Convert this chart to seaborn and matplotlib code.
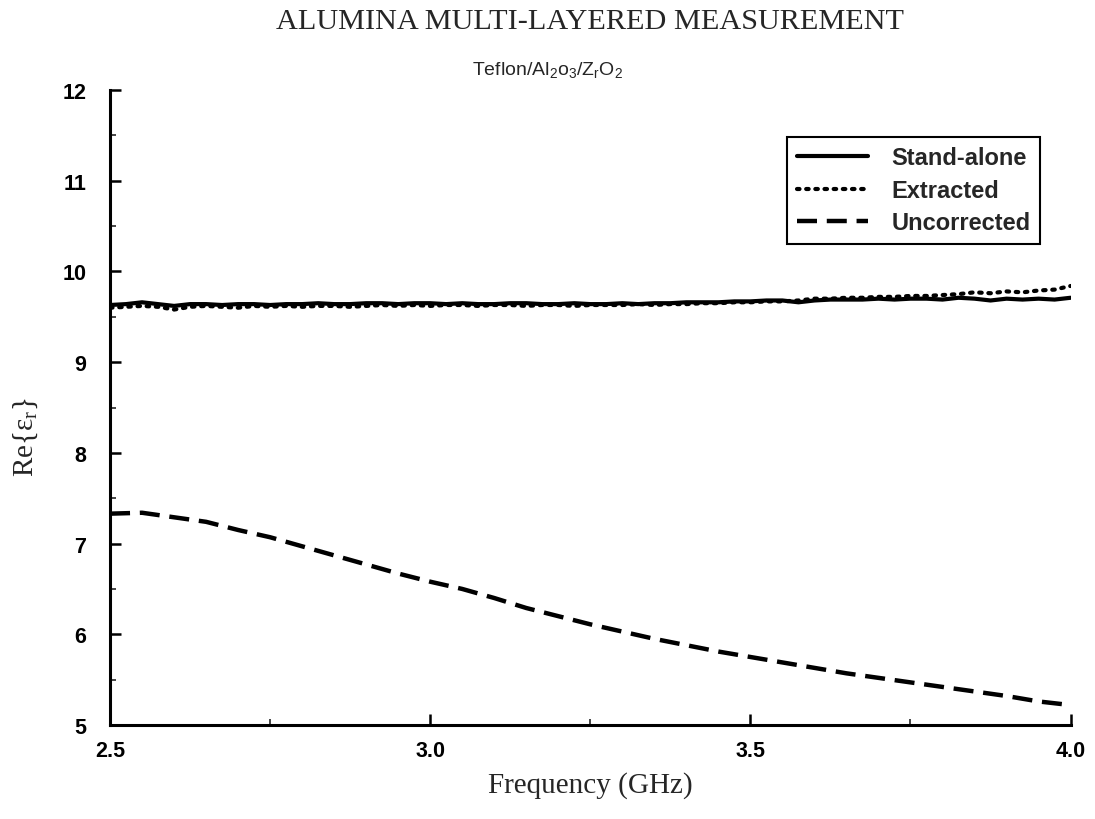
import numpy as np
import pandas as pd
import matplotlib
matplotlib.use("Agg")
import matplotlib.pyplot as plt
import seaborn as sns

# ---- data ----
freq_fine = [2.500, 2.525, 2.550, 2.575, 2.600, 2.625, 2.650, 2.675, 2.700, 2.725,
             2.750, 2.775, 2.800, 2.825, 2.850, 2.875, 2.900, 2.925, 2.950, 2.975,
             3.000, 3.025, 3.050, 3.075, 3.100, 3.125, 3.150, 3.175, 3.200, 3.225,
             3.250, 3.275, 3.300, 3.325, 3.350, 3.375, 3.400, 3.425, 3.450, 3.475,
             3.500, 3.525, 3.550, 3.575, 3.600, 3.625, 3.650, 3.675, 3.700, 3.725,
             3.750, 3.775, 3.800, 3.825, 3.850, 3.875, 3.900, 3.925, 3.950, 3.975,
             4.000]
stand_alone = [9.63, 9.64, 9.66, 9.64, 9.62, 9.64, 9.64, 9.63, 9.64, 9.64,
               9.63, 9.64, 9.64, 9.65, 9.64, 9.64, 9.65, 9.65, 9.64, 9.65,
               9.65, 9.64, 9.65, 9.64, 9.64, 9.65, 9.65, 9.64, 9.64, 9.65,
               9.64, 9.64, 9.65, 9.64, 9.65, 9.65, 9.66, 9.66, 9.66, 9.67,
               9.67, 9.68, 9.68, 9.66, 9.68, 9.69, 9.69, 9.69, 9.70, 9.69,
               9.70, 9.70, 9.69, 9.71, 9.70, 9.68, 9.70, 9.69, 9.70, 9.69,
               9.71]
extracted = [9.60, 9.61, 9.62, 9.61, 9.58, 9.61, 9.62, 9.61, 9.60, 9.62,
             9.61, 9.62, 9.61, 9.62, 9.62, 9.61, 9.62, 9.63, 9.62, 9.63,
             9.62, 9.63, 9.63, 9.62, 9.63, 9.63, 9.62, 9.63, 9.63, 9.62,
             9.63, 9.63, 9.63, 9.64, 9.63, 9.64, 9.64, 9.65, 9.65, 9.66,
             9.66, 9.67, 9.67, 9.68, 9.70, 9.70, 9.71, 9.71, 9.72, 9.72,
             9.73, 9.73, 9.74, 9.75, 9.77, 9.76, 9.78, 9.77, 9.79, 9.80,
             9.84]
freq_coarse = [2.50, 2.55, 2.60, 2.65, 2.70, 2.75, 2.80, 2.85, 2.90, 2.95,
               3.00, 3.05, 3.10, 3.15, 3.20, 3.25, 3.30, 3.35, 3.40, 3.45,
               3.50, 3.55, 3.60, 3.65, 3.70, 3.75, 3.80, 3.85, 3.90, 3.95,
               4.00]
uncorrected = [7.33, 7.34, 7.29, 7.24, 7.15, 7.07, 6.97, 6.87, 6.77, 6.67,
               6.58, 6.50, 6.40, 6.29, 6.20, 6.11, 6.03, 5.95, 5.88, 5.81,
               5.75, 5.69, 5.63, 5.57, 5.52, 5.47, 5.42, 5.37, 5.32, 5.26,
               5.22]
series_names = ["Stand-alone", "Extracted", "Uncorrected"]
x_ticks = [2.5, 3.0, 3.5, 4.0]
x_tick_labels = ["2.5", "3.0", "3.5", "4.0"]
y_ticks = [5, 6, 7, 8, 9, 10, 11, 12]

# ---- style ----
sns.set_theme(style="ticks")
plt.rcParams["font.family"] = ["Liberation Sans", "DejaVu Sans"]
plt.rcParams["mathtext.fontset"] = "custom"
plt.rcParams["mathtext.rm"] = "Liberation Sans"
plt.rcParams["mathtext.default"] = "regular"

fig = plt.figure(figsize=(10.95, 8.2), dpi=100)
ax = fig.add_axes([0.1005, 0.1146, 0.8772, 0.7744])

df_sa = pd.DataFrame({"f": freq_fine, "v": stand_alone})
df_ex = pd.DataFrame({"f": freq_fine, "v": extracted})
df_un = pd.DataFrame({"f": freq_coarse, "v": uncorrected})

sns.lineplot(data=df_sa, x="f", y="v", ax=ax, color="black", lw=3.0,
             label=series_names[0])
sns.lineplot(data=df_ex, x="f", y="v", ax=ax, color="black", lw=3.0,
             label=series_names[1])
sns.lineplot(data=df_un, x="f", y="v", ax=ax, color="black", lw=3.2,
             label=series_names[2])
lines = ax.get_lines()
lines[1].set_linestyle((0, (0.6, 1.6)))
lines[1].set_dash_capstyle("round")
lines[2].set_linestyle((0, (4.5, 2.2)))

ax.set_xlim(2.5, 4.0)
ax.set_ylim(5, 12)
ax.set_xticks(x_ticks)
ax.set_xticklabels(x_tick_labels)
ax.set_yticks(y_ticks)
ax.set_xticks([2.75, 3.25, 3.75], minor=True)
ax.set_yticks(np.arange(5.5, 12, 1.0), minor=True)
ax.tick_params(axis="both", which="major", direction="in", length=8, width=1.8,
               labelsize=15.5, colors="black")
ax.tick_params(axis="both", which="minor", direction="in", length=4, width=1.2)
ax.tick_params(axis="x", pad=11)
ax.tick_params(axis="y", pad=17)
for lab in ax.get_xticklabels() + ax.get_yticklabels():
    lab.set_fontweight("bold")

sns.despine(ax=ax)
for s in ["left", "bottom"]:
    ax.spines[s].set_linewidth(2.2)
    ax.spines[s].set_color("black")

ax.set_xlabel("Frequency (GHz)", family=["Liberation Serif"], fontsize=21)
ax.xaxis.set_label_coords(0.5, -0.072)
ax.set_ylabel(r"Re{ε$_r$}", family=["Liberation Serif", "DejaVu Serif"],
              fontsize=21)
ax.yaxis.set_label_coords(-0.073, 0.455)

ax.text(0.5, 0.973, "ALUMINA MULTI-LAYERED MEASUREMENT", ha="center",
        va="center", family=["Liberation Serif"], fontsize=21.8,
        transform=matplotlib.transforms.blended_transform_factory(ax.transAxes, fig.transFigure))
fig.text(0.5, 0.903, r"Teflon/Al$_2$o$_3$/Z$_r$O$_2$", ha="center",
         va="bottom", fontsize=14)

leg = ax.legend(loc="upper right", bbox_to_anchor=(0.968, 0.926),
                frameon=True, fancybox=False, handlelength=3.0,
                prop={"weight": "bold", "size": 17}, borderpad=0.4,
                labelspacing=0.4, handletextpad=1.0, borderaxespad=0)
leg.get_frame().set_edgecolor("black")
leg.get_frame().set_linewidth(1.5)
leg.get_frame().set_alpha(1)

fig.savefig("out.png", dpi=100)
